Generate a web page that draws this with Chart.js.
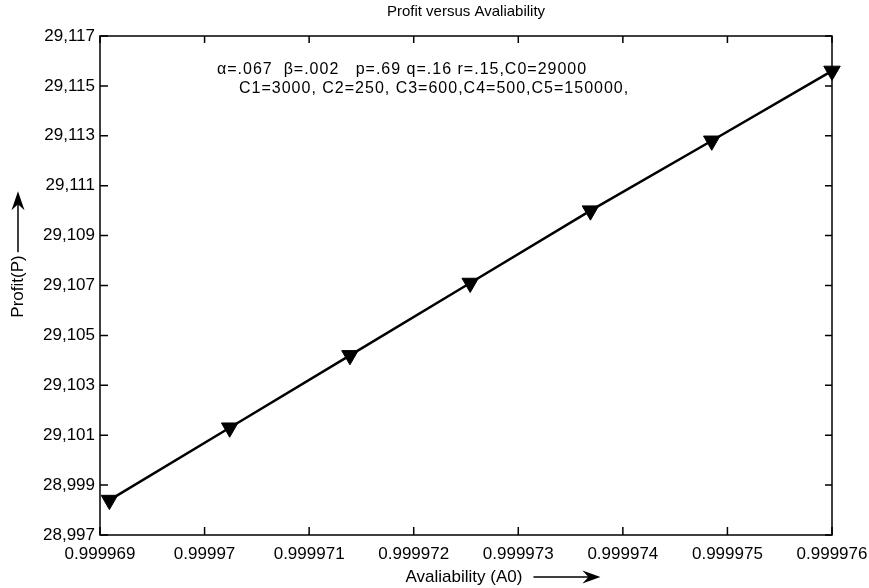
<!DOCTYPE html>
<html>
<head>
<meta charset="utf-8">
<script src="https://cdn.jsdelivr.net/npm/chart.js@4.4.1/dist/chart.umd.min.js"></script>
<style>
  html, body { margin: 0; padding: 0; background: #fff; }
</style>
</head>
<body>
<canvas id="grafik" width="869" height="588"></canvas>
<script>
// data
const avail = [0.99996909, 0.99997024, 0.99997139, 0.99997254, 0.99997369, 0.99997485, 0.999976];
const profit = [29098.4, 29101.3, 29104.2, 29107.1, 29110.0, 29112.8, 29115.6];

const xTicks = [0.999969, 0.99997, 0.999971, 0.999972, 0.999973, 0.999974, 0.999975, 0.999976];
const xTickLabels = ["0.999969", "0.99997", "0.999971", "0.999972", "0.999973", "0.999974", "0.999975", "0.999976"];
const yTicks = [29097, 29099, 29101, 29103, 29105, 29107, 29109, 29111, 29113, 29115, 29117];
const yTickLabels = ["28,997", "28,999", "29,101", "29,103", "29,105", "29,107", "29,109", "29,111", "29,113", "29,115", "29,117"];

const judul = "Profit versus Avaliability";
const labelX = "Avaliability (A0)";
const labelY = "Profit(P)";
const catatan = [
  "\u03b1=.067  \u03b2=.002   p=.69 q=.16 r=.15,C0=29000",
  "C1=3000, C2=250, C3=600,C4=500,C5=150000,"
];

const FONT = "'Liberation Sans', Arial, sans-serif";
Chart.defaults.font.family = FONT;
Chart.defaults.color = "#000";

// frame, inward ticks, titles, arrows and the parameter note
const hiasan = {
  id: "hiasan",
  afterDraw(c) {
    const ctx = c.ctx;
    const a = c.chartArea;
    const sx = c.scales.x, sy = c.scales.y;
    ctx.save();
    ctx.strokeStyle = "#000";
    ctx.fillStyle = "#000";
    ctx.lineWidth = 1.5;
    ctx.strokeRect(a.left, a.top, a.right - a.left, a.bottom - a.top);

    ctx.beginPath();
    xTicks.forEach(v => {
      const px = sx.getPixelForValue(v);
      ctx.moveTo(px, a.bottom); ctx.lineTo(px, a.bottom - 8);
      ctx.moveTo(px, a.top); ctx.lineTo(px, a.top + 7);
    });
    yTicks.forEach(v => {
      const py = sy.getPixelForValue(v);
      ctx.moveTo(a.left, py); ctx.lineTo(a.left + 8, py);
      ctx.moveTo(a.right, py); ctx.lineTo(a.right - 7, py);
    });
    ctx.stroke();

    const cx = (a.left + a.right) / 2;
    ctx.textAlign = "center";
    ctx.textBaseline = "middle";
    ctx.font = "15px " + FONT;
    ctx.fillText(judul, cx, 12);

    // x title + arrow
    ctx.font = "17px " + FONT;
    ctx.fillText(labelX, cx - 2, 577);
    const wx = ctx.measureText(labelX).width;
    const x1 = cx - 2 + wx / 2 + 11, x2 = x1 + 67, ay = 577;
    ctx.beginPath(); ctx.moveTo(x1, ay); ctx.lineTo(x2 - 10, ay); ctx.stroke();
    ctx.beginPath();
    ctx.moveTo(x2, ay); ctx.lineTo(x2 - 18, ay - 6.5); ctx.lineTo(x2 - 12, ay); ctx.lineTo(x2 - 18, ay + 6.5);
    ctx.closePath(); ctx.fill();

    // y title + arrow
    const ty = (a.top + a.bottom) / 2 + 1;
    ctx.save();
    ctx.translate(18, ty);
    ctx.rotate(-Math.PI / 2);
    ctx.font = "17px " + FONT;
    ctx.fillText(labelY, 0, 0);
    const wy = ctx.measureText(labelY).width;
    ctx.restore();
    const y1 = ty - wy / 2 - 3, y2 = y1 - 61, ax = 18;
    ctx.beginPath(); ctx.moveTo(ax, y1); ctx.lineTo(ax, y2 + 10); ctx.stroke();
    ctx.beginPath();
    ctx.moveTo(ax, y2); ctx.lineTo(ax - 6.5, y2 + 19); ctx.lineTo(ax, y2 + 13); ctx.lineTo(ax + 6.5, y2 + 19);
    ctx.closePath(); ctx.fill();

    // parameter note
    ctx.textAlign = "left";
    ctx.font = "16px " + FONT;
    ctx.letterSpacing = "1px";
    ctx.fillText(catatan[0], 217, 70);
    ctx.fillText(catatan[1], 239, 89);
    ctx.restore();
  }
};

const titik = avail.map((v, i) => ({ x: v, y: profit[i] }));

new Chart(document.getElementById("grafik"), {
  type: "scatter",
  data: {
    datasets: [{
      data: titik,
      showLine: true,
      borderColor: "#000",
      borderWidth: 2.5,
      backgroundColor: "#000",
      pointStyle: "triangle",
      rotation: 180,
      pointRadius: 9.5,
      pointBorderWidth: 1,
      clip: false
    }]
  },
  options: {
    responsive: false,
    animation: false,
    devicePixelRatio: 1,
    layout: { padding: { left: 0, right: 37, top: 36, bottom: 0 } },
    plugins: { legend: { display: false }, title: { display: false }, tooltip: { enabled: false } },
    scales: {
      x: {
        type: "linear",
        min: xTicks[0],
        max: xTicks[xTicks.length - 1],
        afterBuildTicks: s => { s.ticks = xTicks.map(v => ({ value: v })); },
        afterFit: s => { s.height = 53; s.paddingLeft = 0; s.paddingRight = 0; },
        grid: { display: false, drawTicks: false },
        border: { display: false },
        ticks: {
          autoSkip: false, maxRotation: 0, padding: 9,
          font: { size: 17 },
          callback: (v, i) => xTickLabels[i]
        }
      },
      y: {
        type: "linear",
        min: yTicks[0],
        max: yTicks[yTicks.length - 1],
        afterBuildTicks: s => { s.ticks = yTicks.map(v => ({ value: v })); },
        afterFit: s => { s.width = 100; s.paddingTop = 0; s.paddingBottom = 0; },
        grid: { display: false, drawTicks: false },
        border: { display: false },
        ticks: {
          autoSkip: false, padding: 5,
          font: { size: 17 },
          callback: (v, i) => yTickLabels[i]
        }
      }
    }
  },
  plugins: [hiasan]
});
</script>
</body>
</html>
